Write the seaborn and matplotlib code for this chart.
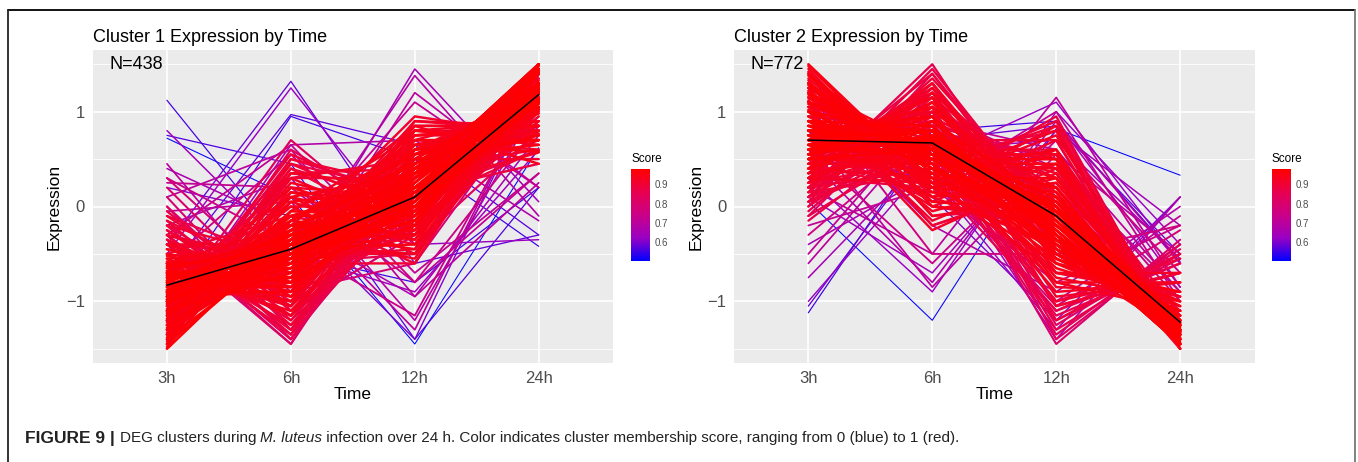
import matplotlib
matplotlib.use("Agg")
import matplotlib.pyplot as plt
from matplotlib import font_manager
from matplotlib.colors import LinearSegmentedColormap, Normalize
from matplotlib.colorbar import ColorbarBase
from matplotlib.lines import Line2D
from matplotlib.ticker import MultipleLocator
import pandas as pd
import seaborn as sns

# ---------------------------------------------------------------- data
times = ["3h", "6h", "12h", "24h"]

# Cluster 1: scaled expression of each gene at each time point, membership score
c1_3h = [-1.50, -1.45, -1.40, -1.30, -1.20, -1.10, -1.00, -0.90, -0.80, -0.70,
         -0.60, -0.50, -0.40, -0.30, -0.35, -1.00, -0.90, -0.80, -0.70, -1.10,
         -1.20, -0.60, -1.30, -0.95, -0.75, -1.25, -0.85, -0.50, -1.05, -0.40,
         -1.15, -0.65, -0.90, -1.35, -1.10, -0.90, -1.20, -1.00, -0.70, -0.60,
         -0.40, -0.80, -0.50, -0.30, -1.40, -1.30, -1.20, -1.45, -1.10, 0.20,
         0.00, -0.20, 0.30, -0.10, 0.10, 1.12, 0.75, 0.72, -0.40, -0.50,
         -1.00, -0.70, -0.80, -0.75, -0.60, -0.90, 0.20, -0.20, 0.40, 0.80,
         0.45, 0.25, -1.20, -0.30, 0.00, -0.60, -0.30, 0.10, 0.30, -0.05,
         -1.48, -1.42, -1.38, -1.33, -1.28, -1.22, -1.18, -1.12, -1.08, -1.02,
         -0.98, -0.92, -0.88, -0.82, -0.78, -0.72, -0.68, -0.62, -0.58, -0.52,
         -1.15, -1.05, -0.95, -0.85, -1.25, -0.75, -1.35, -0.65, -1.00, -0.90,
         -0.95, -0.70, -1.10, -0.55, -0.85, -1.20, -0.45, -0.75, -1.00, -0.60,
         -0.83, -0.88, -0.78, -0.93, -0.73, -1.03, -0.63, -0.98, -0.68, -1.13,
         -0.45, -0.35, -0.25, -0.15, -0.40, -0.30, -0.20, -0.05, -0.50, -0.10,
         -1.40, -1.30, -1.25, -1.15, -1.45, -1.35, -1.20, -1.05, -0.95, -1.30,
         -1.25, -1.45, -1.05, -0.80, -1.35, -0.60, -1.15, -0.95, -0.70, -0.55,
         -0.30, -0.40, -0.20, -0.30, -0.15, -0.55, -0.35, -0.65, -0.25, -0.40]
c1_6h = [-0.25, -0.35, -0.40, -0.50, -0.60, -0.70, -0.80, -0.90, -1.00, -1.10,
         -1.15, -1.25, -1.35, -1.40, -1.45, -0.40, -0.50, -0.30, -0.60, -0.30,
         -0.20, -0.50, -0.10, -0.55, -0.75, -0.45, -0.20, -0.70, 0.00, -0.80,
         -0.65, -0.35, -0.10, -0.05, -0.60, -0.80, -0.40, -0.30, -0.90, -0.30,
         -0.50, 0.00, -0.10, -0.60, 0.40, 0.60, 0.50, 0.30, 0.70, -1.10,
         -1.20, -1.00, -0.90, -0.60, -1.30, -0.50, 0.45, 0.10, 1.32, 1.25,
         0.95, 0.97, -0.70, -0.55, -0.80, -0.40, -0.10, 0.30, -0.20, -0.50,
         -1.10, 0.20, 0.65, -1.45, -1.40, 0.55, 0.65, 0.60, -0.40, 0.05,
         0.05, 0.15, -0.15, 0.25, -0.25, 0.10, -0.05, 0.35, -0.15, 0.20,
         -0.65, -0.75, -0.60, -0.85, -0.50, -0.95, -0.80, -1.00, -0.65, -0.90,
         -0.45, -0.20, -0.35, -0.55, -0.30, -0.40, -0.15, -0.60, -0.50, -0.25,
         -0.15, -0.25, 0.05, -0.45, -0.35, 0.15, -0.75, 0.10, -0.10, -0.20,
         -0.45, -0.40, -0.50, -0.35, -0.55, -0.45, -0.45, -0.60, -0.30, -0.35,
         -0.85, -0.95, -1.05, -0.80, -0.40, -0.70, -0.55, -1.10, -1.05, -0.95,
         0.50, 0.45, 0.30, 0.55, 0.20, 0.35, 0.40, 0.45, 0.30, 0.10,
         -0.55, -0.05, -0.75, -0.70, -0.35, -0.85, -0.25, -0.90, -1.05, -1.15,
         -1.30, -1.20, -1.35, -1.40, -1.25, -1.15, -1.30, -1.05, -1.15, -1.35]
c1_12h = [0.45, 0.40, 0.30, 0.35, 0.40, 0.30, 0.40, 0.30, 0.40, 0.30,
          0.35, 0.30, 0.40, 0.30, 0.50, 0.20, 0.10, 0.00, 0.20, 0.10,
          0.20, -0.10, 0.30, 0.40, 0.20, 0.50, -0.20, 0.00, 0.00, 0.10,
          0.60, -0.30, 0.20, 0.60, 0.85, 0.90, 0.80, 0.70, 0.75, -0.55,
          -0.50, -0.60, -0.40, -0.60, 0.00, -0.20, 0.10, 0.30, -0.40, -0.30,
          0.00, -0.20, -0.60, -0.50, 0.10, -0.80, -1.40, -1.45, -0.60, -0.40,
          0.50, 0.65, 1.45, 1.38, 1.20, 1.10, -1.40, -1.20, -0.95, -0.90,
          -0.30, -0.80, 0.70, 0.55, 0.20, -0.80, -0.70, -0.95, -1.15, -1.30,
          0.20, 0.05, 0.55, -0.05, 0.10, 0.35, -0.10, 0.20, 0.65, -0.20,
          0.15, 0.55, -0.05, 0.25, -0.15, 0.45, 0.05, 0.60, -0.20, 0.15,
          0.75, 0.85, 0.60, 0.70, 0.65, 0.50, 0.45, 0.55, 0.80, 0.40,
          -0.30, -0.45, -0.35, -0.40, -0.25, -0.15, -0.20, -0.50, -0.10, -0.35,
          0.10, 0.05, 0.15, 0.20, 0.00, 0.25, -0.05, 0.30, -0.05, 0.35,
          0.05, 0.20, 0.10, -0.25, -0.50, -0.30, -0.45, -0.10, 0.45, -0.15,
          0.20, -0.10, 0.50, 0.00, 0.10, 0.40, -0.30, 0.15, -0.25, -0.20,
          0.90, 0.75, 0.85, 0.65, 0.95, 0.80, 0.60, 0.80, 0.70, 0.60,
          0.25, 0.35, 0.10, 0.45, 0.00, 0.45, 0.60, 0.50, -0.05, 0.60]
c1_24h = [1.30, 1.40, 1.50, 1.45, 1.40, 1.50, 1.40, 1.50, 1.40, 1.50,
          1.40, 1.45, 1.35, 1.40, 1.30, 1.20, 1.30, 1.10, 1.10, 1.30,
          1.20, 1.20, 1.10, 1.10, 1.30, 1.20, 1.25, 1.20, 1.05, 1.10,
          1.20, 1.30, 0.80, 0.80, 0.85, 0.80, 0.80, 0.60, 0.85, 1.45,
          1.40, 1.40, 1.00, 1.50, 1.00, 0.90, 0.60, 0.85, 0.80, 1.20,
          1.20, 1.40, 1.20, 1.20, 1.10, 0.20, 0.20, 0.62, -0.30, -0.35,
          -0.42, -0.30, 0.05, -0.10, 0.20, 0.20, 1.30, 1.10, 0.75, 0.60,
          0.95, 0.35, -0.15, 1.20, 1.20, 0.85, 0.35, 0.25, 1.25, 1.30,
          1.23, 1.22, 0.98, 1.13, 1.43, 0.77, 1.33, 0.57, 0.58, 1.02,
          1.48, 1.12, 1.50, 1.42, 1.43, 1.22, 1.43, 1.02, 1.43, 1.27,
          0.85, 0.45, 0.70, 0.70, 0.90, 0.65, 1.05, 0.70, 0.70, 0.75,
          1.40, 1.40, 1.40, 1.40, 1.45, 1.20, 1.40, 1.15, 1.20, 1.15,
          1.18, 1.23, 1.13, 1.08, 1.28, 1.23, 1.13, 1.28, 1.03, 1.13,
          1.25, 1.10, 1.20, 1.20, 1.30, 1.30, 1.20, 1.25, 1.10, 1.20,
          0.70, 0.95, 0.50, 0.60, 1.15, 0.60, 1.10, 0.45, 0.90, 1.40,
          0.85, 0.75, 0.85, 0.85, 0.75, 0.65, 0.80, 0.90, 1.05, 1.10,
          1.35, 1.25, 1.45, 1.25, 1.40, 1.25, 1.05, 1.20, 1.45, 1.15]
c1_score = [0.97, 0.96, 0.97, 0.96, 0.95, 0.97, 0.95, 0.96, 0.94, 0.93,
            0.92, 0.90, 0.88, 0.85, 0.82, 0.98, 0.98, 0.98, 0.97, 0.97,
            0.96, 0.96, 0.95, 0.97, 0.97, 0.96, 0.95, 0.94, 0.93, 0.93,
            0.94, 0.95, 0.93, 0.92, 0.93, 0.91, 0.92, 0.90, 0.91, 0.92,
            0.91, 0.90, 0.89, 0.90, 0.88, 0.85, 0.86, 0.90, 0.83, 0.80,
            0.83, 0.87, 0.78, 0.86, 0.79, 0.55, 0.56, 0.50, 0.58, 0.62,
            0.55, 0.57, 0.65, 0.68, 0.70, 0.72, 0.60, 0.68, 0.66, 0.64,
            0.70, 0.72, 0.67, 0.78, 0.75, 0.74, 0.72, 0.70, 0.74, 0.70,
            0.95, 0.94, 0.96, 0.93, 0.97, 0.94, 0.96, 0.92, 0.95, 0.94,
            0.97, 0.96, 0.97, 0.96, 0.98, 0.95, 0.97, 0.94, 0.96, 0.95,
            0.95, 0.93, 0.96, 0.95, 0.94, 0.95, 0.96, 0.94, 0.95, 0.96,
            0.94, 0.93, 0.93, 0.95, 0.95, 0.92, 0.94, 0.92, 0.96, 0.94,
            0.98, 0.98, 0.98, 0.97, 0.98, 0.97, 0.97, 0.97, 0.96, 0.97,
            0.92, 0.91, 0.90, 0.89, 0.92, 0.91, 0.90, 0.88, 0.92, 0.89,
            0.90, 0.91, 0.90, 0.89, 0.92, 0.91, 0.90, 0.88, 0.91, 0.92,
            0.92, 0.93, 0.92, 0.94, 0.91, 0.92, 0.94, 0.93, 0.92, 0.91,
            0.88, 0.90, 0.87, 0.86, 0.88, 0.91, 0.89, 0.92, 0.90, 0.87]
c1_centroid = [-0.83, -0.45, 0.10, 1.18]

# Cluster 2
c2_3h = [1.50, 1.40, 1.30, 1.20, 1.10, 1.00, 0.90, 0.80, 0.70, 0.60,
         0.45, 0.35, 0.25, 0.70, 0.80, 0.60, 0.90, 0.50, 1.00, 0.65,
         0.40, 0.85, 0.75, 0.55, 1.05, 0.30, 0.95, 0.45, 0.50, 0.40,
         0.20, 0.60, 0.30, 0.10, 1.10, 1.20, 0.90, 1.30, 0.70, 1.00,
         0.80, 1.15, 1.25, 0.00, -0.10, 0.10, 0.20, 1.40, 1.30, 1.45,
         1.20, -1.12, -1.05, -1.00, -0.75, -0.60, -0.50, -0.30, 0.05, 0.30,
         0.50, 0.80, 0.60, 0.20, 0.90, 1.00, 0.70, 1.10, 0.80, 0.40,
         -0.40, 0.10, 1.20, 0.95, -0.20,
         1.48, 1.42, 1.38, 1.33, 1.28, 1.22, 1.18, 1.12, 1.08, 1.02,
         0.15, 0.20, 0.30, 0.40, 0.50, 0.55, 0.10, 0.05, 0.25, 0.35,
         0.70, 0.75, 0.65, 0.80, 0.60, 0.85, 0.55, 0.90, 0.75, 0.65,
         0.55, 0.35, 0.65, 0.25, 0.45, 0.15, 0.75, 0.05, 0.50, 0.30,
         1.05, 0.90, 1.15, 0.80, 1.25, 0.70, 1.10, 0.90, 1.35, 0.80,
         1.00, 0.90, 1.15, 0.80, 1.30, 0.95, 1.10, 0.70, 1.25, 0.85,
         0.00, -0.05, 0.10, 0.20, -0.15, 0.05, 0.30, -0.10, 0.15, 0.25,
         0.40, 0.50, 0.30, 0.70, 0.50, 0.45, 0.20, 0.65, 0.35, 0.55,
         1.05, 0.80, 1.20, 0.95, 1.10, 0.75, 1.30]
c2_6h = [0.25, 0.35, 0.45, 0.55, 0.65, 0.75, 0.85, 0.95, 1.05, 1.15,
         1.25, 1.40, 1.50, 0.70, 0.60, 0.80, 0.50, 0.60, 0.40, 0.55,
         0.90, 0.80, 0.30, 0.95, 0.20, 0.70, 0.85, 0.45, 0.50, 0.30,
         0.40, 0.10, 0.20, 0.50, 0.60, 0.50, 0.85, 0.30, 1.05, 0.80,
         0.60, 0.45, 0.60, 1.40, 1.20, 1.30, 1.10, 0.00, -0.10, 0.10,
         -0.20, 0.80, 0.70, 0.50, 0.60, 0.90, 1.00, 0.80, -1.20, -0.90,
         -0.80, -0.85, -0.60, -0.50, 0.30, 0.10, 0.60, -0.20, 0.20, 0.70,
         0.35, -0.70, -0.50, 0.35, 0.20,
         0.20, 0.00, 0.30, -0.10, 0.40, 0.15, 0.50, -0.25, 0.60, 0.25,
         1.45, 1.35, 1.30, 1.20, 1.10, 1.15, 1.15, 1.25, 1.00, 1.05,
         0.67, 0.62, 0.72, 0.70, 0.60, 0.55, 0.75, 0.65, 0.80, 0.50,
         0.35, 0.55, 0.20, 0.65, 0.15, 0.35, 0.05, 0.70, 0.45, 0.25,
         0.70, 0.85, 0.55, 0.95, 0.40, 1.05, 0.60, 0.60, 0.25, 0.80,
         -0.05, 0.10, 0.20, 0.00, 0.05, 0.25, -0.15, 0.20, -0.20, 0.35,
         0.90, 1.05, 0.80, 0.95, 0.85, 0.60, 0.75, 0.70, 1.10, 0.50,
         1.30, 1.20, 1.25, 0.95, 1.15, 0.90, 1.20, 1.00, 1.10, 0.85,
         0.70, 0.90, 0.55, 0.80, 0.45, 1.00, 0.40]
c2_12h = [-0.60, -0.40, -0.50, -0.40, -0.30, -0.35, -0.30, -0.30, -0.30, -0.40,
          -0.35, -0.30, -0.45, -0.10, 0.00, -0.20, -0.20, 0.10, -0.10, 0.20,
          0.00, -0.55, 0.30, -0.50, 0.10, 0.30, -0.80, 0.40, 0.50, 0.80,
          0.85, 0.70, 0.95, 0.80, -1.00, -1.20, -1.30, -1.10, -1.40, -1.45,
          -0.70, -0.80, -0.50, -0.20, 0.10, -0.40, 0.00, -0.20, 0.00, -0.40,
          0.20, 0.90, 0.85, 1.10, 0.70, 0.60, 0.40, 0.50, 0.82, 1.00,
          0.90, 0.55, 0.70, 1.15, -1.30, -1.20, -1.40, -0.90, -0.80, -1.00,
          0.90, 0.80, -0.50, -1.05, 1.00,
          -0.45, -0.10, -0.35, 0.10, -0.25, -0.05, -0.30, 0.35, -0.45, 0.05,
          -0.20, -0.10, -0.25, 0.00, -0.15, -0.35, 0.10, -0.05, 0.15, -0.05,
          -0.10, -0.05, -0.15, -0.20, 0.00, -0.10, -0.05, -0.25, -0.30, 0.05,
          0.60, 0.55, 0.55, 0.50, 0.85, 0.90, 0.60, 0.70, 0.45, 0.75,
          -0.75, -0.85, -0.65, -0.95, -0.55, -1.05, -0.90, -0.60, -0.70, -0.50,
          0.30, 0.25, 0.05, 0.45, -0.05, 0.20, 0.40, 0.45, 0.25, 0.15,
          0.30, 0.10, 0.40, 0.20, 0.50, 0.60, 0.35, 0.55, 0.05, 0.50,
          -0.40, -0.55, -0.30, -0.45, -0.60, -0.20, -0.45, -0.70, -0.50, -0.35,
          -1.35, -1.25, -1.15, -1.05, -1.00, -1.20, -1.10]
c2_24h = [-1.15, -1.35, -1.25, -1.35, -1.45, -1.40, -1.45, -1.45, -1.45, -1.35,
          -1.35, -1.45, -1.30, -1.30, -1.40, -1.20, -1.20, -1.20, -1.30, -1.40,
          -1.30, -1.10, -1.35, -1.00, -1.35, -1.30, -1.10, -1.30, -1.50, -1.50,
          -1.45, -1.40, -1.45, -1.40, -0.70, -0.50, -0.50, -0.50, -0.40, -0.35,
          -0.70, -0.80, -1.35, -1.20, -1.20, -1.00, -1.30, -1.20, -1.20, -1.15,
          -1.20, -0.58, -0.50, -0.60, -0.55, -0.90, -0.90, -1.00, 0.33, -0.40,
          -0.60, -0.50, -0.70, -0.85, 0.10, 0.10, 0.10, 0.00, -0.20, -0.10,
          -0.85, -0.20, -0.20, -0.25, -1.00,
          -1.23, -1.32, -1.33, -1.33, -1.43, -1.32, -1.38, -1.22, -1.23, -1.32,
          -1.40, -1.45, -1.35, -1.50, -1.45, -1.35, -1.35, -1.25, -1.40, -1.35,
          -1.27, -1.32, -1.22, -1.30, -1.20, -1.30, -1.25, -1.30, -1.25, -1.20,
          -1.50, -1.45, -1.40, -1.40, -1.45, -1.40, -1.40, -1.45, -1.40, -1.30,
          -1.00, -0.90, -1.05, -0.80, -1.10, -0.70, -0.80, -0.90, -0.90, -1.10,
          -1.25, -1.25, -1.40, -1.25, -1.30, -1.40, -1.35, -1.35, -1.30, -1.35,
          -1.20, -1.10, -1.30, -1.35, -1.20, -1.25, -1.40, -1.15, -1.30, -1.25,
          -1.30, -1.15, -1.25, -1.20, -1.05, -1.15, -0.95, -0.95, -0.95, -1.05,
          -0.40, -0.45, -0.60, -0.70, -0.55, -0.55, -0.60]
c2_score = [0.95, 0.96, 0.96, 0.97, 0.97, 0.97, 0.97, 0.96, 0.95, 0.94,
            0.92, 0.88, 0.86, 0.98, 0.98, 0.98, 0.97, 0.97, 0.97, 0.96,
            0.96, 0.96, 0.95, 0.95, 0.94, 0.94, 0.93, 0.93, 0.95, 0.92,
            0.90, 0.91, 0.88, 0.87, 0.90, 0.88, 0.86, 0.85, 0.82, 0.80,
            0.92, 0.93, 0.95, 0.85, 0.82, 0.84, 0.88, 0.90, 0.88, 0.92,
            0.85, 0.55, 0.58, 0.62, 0.65, 0.70, 0.72, 0.75, 0.50, 0.62,
            0.68, 0.70, 0.74, 0.70, 0.62, 0.60, 0.66, 0.68, 0.74, 0.72,
            0.66, 0.64, 0.76, 0.78, 0.72,
            0.95, 0.94, 0.96, 0.93, 0.97, 0.95, 0.97, 0.92, 0.96, 0.95,
            0.88, 0.90, 0.92, 0.93, 0.95, 0.94, 0.89, 0.88, 0.93, 0.94,
            0.98, 0.98, 0.98, 0.98, 0.97, 0.97, 0.97, 0.97, 0.97, 0.96,
            0.94, 0.93, 0.93, 0.92, 0.91, 0.89, 0.92, 0.89, 0.95, 0.92,
            0.93, 0.92, 0.94, 0.91, 0.94, 0.90, 0.92, 0.95, 0.93, 0.95,
            0.93, 0.94, 0.95, 0.92, 0.94, 0.95, 0.91, 0.93, 0.90, 0.95,
            0.88, 0.87, 0.90, 0.91, 0.86, 0.89, 0.92, 0.87, 0.90, 0.91,
            0.91, 0.92, 0.90, 0.94, 0.91, 0.95, 0.88, 0.92, 0.90, 0.94,
            0.84, 0.83, 0.86, 0.88, 0.87, 0.85, 0.86]
c2_centroid = [0.70, 0.67, -0.10, -1.22]

clusters = [
    ("Cluster 1 Expression by Time", "N=438",
     [c1_3h, c1_6h, c1_12h, c1_24h], c1_score, c1_centroid),
    ("Cluster 2 Expression by Time", "N=772",
     [c2_3h, c2_6h, c2_12h, c2_24h], c2_score, c2_centroid),
]


def long_frame(cols, score):
    rows = []
    for i, s in enumerate(score):
        for t, col in zip(times, cols):
            rows.append((i, t, col[i], s))
    return pd.DataFrame(rows, columns=["gene", "Time", "Expression", "Score"])


# ---------------------------------------------------------------- style
sns.set_theme(style="darkgrid")
available = {f.name for f in font_manager.fontManager.ttflist}
base_font = "Liberation Sans" if "Liberation Sans" in available else "DejaVu Sans"
plt.rcParams["font.family"] = [base_font, "DejaVu Sans"]

# blue -> red gradient interpolated through Lab space
score_cmap = LinearSegmentedColormap.from_list(
    "score", ["#0000FF", "#9A00C2", "#CA0088", "#E8004F", "#FF0000"])

W, H = 1358, 462
fig = plt.figure(figsize=(W / 100, H / 100), dpi=100)
fig.patch.set_facecolor("white")


def fx(px):
    return px / W


def fy(py):
    return 1 - py / H


panel_x = [92.6, 734.0]
panel_w = 520.5
cbar_x = [631, 1272]
ax_top, ax_bot = 50, 363

for k, (title, ntext, cols, score, centroid) in enumerate(clusters):
    ax = fig.add_axes([fx(panel_x[k]), fy(ax_bot), fx(panel_w), (ax_bot - ax_top) / H])
    df = long_frame(cols, score)
    norm = Normalize(vmin=min(score), vmax=max(score))
    # well-scored genes form the dense core of the cluster: draw them a bit heavier
    sns.lineplot(data=df, x="Time", y="Expression", hue="Score", units="gene",
                 size="Score", sizes=(0.75, 1.9), size_norm=norm,
                 estimator=None, palette=score_cmap, hue_norm=norm,
                 legend=False, sort=False, ax=ax)
    ax.plot(times, centroid, color="black", linewidth=1.1, zorder=5)

    ax.set_facecolor("#EBEBEB")
    ax.set_xlim(-0.6, 3.6)
    ax.set_ylim(-1.65, 1.65)
    ax.set_yticks([-1, 0, 1])
    ax.set_yticklabels(["\u22121", "0", "1"])
    ax.yaxis.set_minor_locator(MultipleLocator(0.5))
    ax.grid(which="major", color="white", linewidth=1.2)
    ax.grid(which="minor", axis="y", color="white", linewidth=0.6)
    ax.set_axisbelow(True)
    for sp in ax.spines.values():
        sp.set_visible(False)
    ax.tick_params(which="major", length=3.5, width=0.8, color="#333333",
                   labelcolor="#4D4D4D", labelsize=12, pad=2)
    ax.tick_params(which="minor", length=0)
    ax.set_xlabel("Time", fontsize=12.5, color="black", labelpad=1)
    ax.set_ylabel("Expression", fontsize=12.5, color="black", labelpad=3)
    ax.set_title(title, loc="left", fontsize=13, color="black", pad=6)
    ax.text(-0.25, 1.5, ntext, ha="center", va="center", fontsize=13, color="black")

    cax = fig.add_axes([fx(cbar_x[k]), fy(261), fx(19), 92 / H])
    cb = ColorbarBase(cax, cmap=score_cmap, norm=norm, ticks=[0.6, 0.7, 0.8, 0.9])
    cb.outline.set_visible(False)
    cax.tick_params(length=3.5, width=0.7, color="white", direction="in",
                    labelsize=7, labelcolor="#4D4D4D", pad=3)
    cax.set_yticklabels(["0.6", "0.7", "0.8", "0.9"])
    cax.set_title("Score", loc="left", fontsize=8.5, pad=5, color="black")

# figure frame
frame_kw = dict(transform=fig.transFigure, linewidth=1.3)
fig.add_artist(Line2D([fx(8), fx(1355)], [fy(10), fy(10)], color="black", **frame_kw))
fig.add_artist(Line2D([fx(8), fx(8)], [fy(10), 0], color="#222222", **frame_kw))
fig.add_artist(Line2D([fx(1355), fx(1355)], [fy(10), 0], color="#777777", **frame_kw))

# caption with bold / italic runs
pieces = [("FIGURE 9 | ", "bold", "normal", 12.5),
          ("DEG clusters during ", "normal", "normal", 11),
          ("M. luteus", "normal", "italic", 11),
          (" infection over 24 h. Color indicates cluster membership score, "
           "ranging from 0 (blue) to 1 (red).", "normal", "normal", 11)]
renderer = fig.canvas.get_renderer()
x = fx(25)
for txt, weight, style, size in pieces:
    t = fig.text(x, fy(438), txt, fontsize=size, fontweight=weight, fontstyle=style,
                 color="#222222", ha="left", va="center")
    bb = t.get_window_extent(renderer=renderer)
    x += bb.width / W

fig.savefig("out.png", dpi=100)
